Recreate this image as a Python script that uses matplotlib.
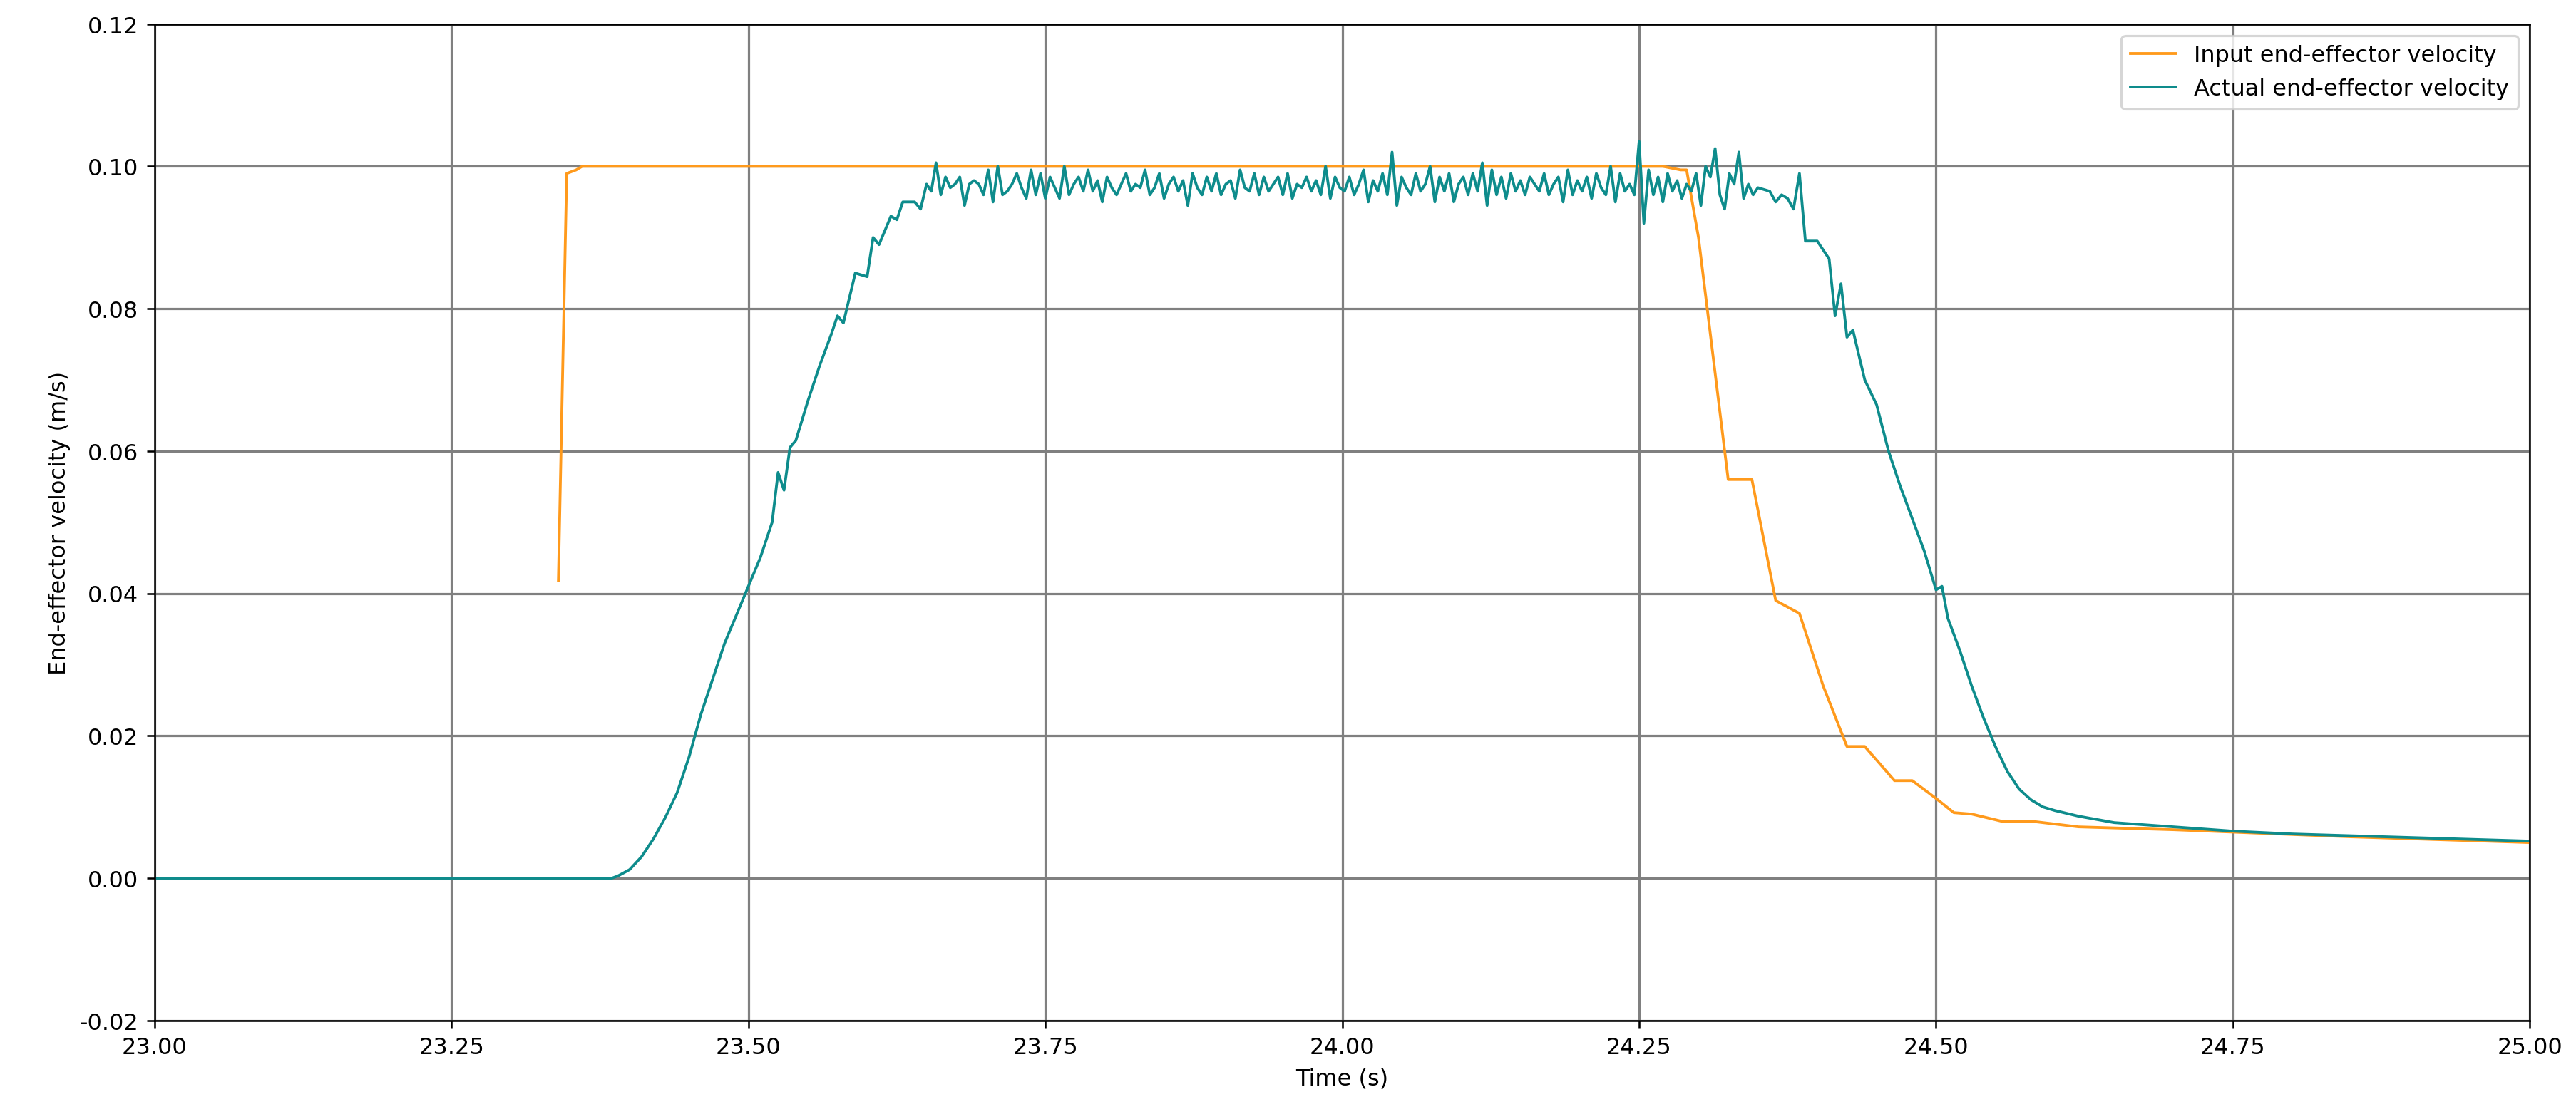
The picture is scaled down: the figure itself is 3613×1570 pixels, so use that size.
import numpy as np
import matplotlib
matplotlib.use('Agg')
import matplotlib.pyplot as plt

# input (commanded) velocity
t_in = [23.34, 23.347, 23.355, 23.36, 24.27, 24.285, 24.29, 24.30, 24.325, 24.345,
        24.365, 24.385, 24.405, 24.425, 24.44, 24.465, 24.48, 24.50, 24.515, 24.53,
        24.555, 24.58, 24.62, 24.70, 24.85, 25.00]
v_in = [0.0418, 0.099, 0.0995, 0.100, 0.100, 0.0995, 0.0995, 0.090, 0.056, 0.056,
        0.039, 0.0372, 0.027, 0.0185, 0.0185, 0.0137, 0.0137, 0.0112, 0.0092, 0.009,
        0.008, 0.008, 0.0072, 0.0068, 0.0058, 0.0050]

# actual velocity: idle + rise
t_rise = [23.00, 23.385, 23.39, 23.40, 23.41, 23.42, 23.43, 23.44, 23.45, 23.46, 23.47,
          23.48, 23.49, 23.50, 23.51, 23.52, 23.525, 23.53, 23.535, 23.54, 23.55,
          23.56, 23.57, 23.575, 23.58, 23.59, 23.60, 23.605, 23.61, 23.62, 23.625,
          23.63, 23.64, 23.645]
v_rise = [0.0, 0.0, 0.0003, 0.0012, 0.003, 0.0055, 0.0085, 0.012, 0.017, 0.023, 0.028,
          0.033, 0.037, 0.041, 0.045, 0.050, 0.057, 0.0545, 0.0605, 0.0615, 0.067,
          0.072, 0.0765, 0.079, 0.078, 0.085, 0.0845, 0.090, 0.089, 0.093, 0.0925,
          0.095, 0.095, 0.094]
# plateau, one value every 4 ms from 23.65
v_plat = [0.0975, 0.0965, 0.1005, 0.0960, 0.0985, 0.0970, 0.0975, 0.0985, 0.0945, 0.0975,
          0.0980, 0.0975, 0.0960, 0.0995, 0.0950, 0.1000, 0.0960, 0.0965, 0.0975, 0.0990,
          0.0970, 0.0955, 0.0995, 0.0960, 0.0990, 0.0955, 0.0985, 0.0970, 0.0955, 0.1000,
          0.0960, 0.0975, 0.0985, 0.0965, 0.0995, 0.0965, 0.0980, 0.0950, 0.0985, 0.0970,
          0.0960, 0.0975, 0.0990, 0.0965, 0.0975, 0.0970, 0.0995, 0.0960, 0.0970, 0.0990,
          0.0955, 0.0975, 0.0985, 0.0965, 0.0980, 0.0945, 0.0990, 0.0970, 0.0960, 0.0985,
          0.0965, 0.0990, 0.0960, 0.0975, 0.0980, 0.0955, 0.0995, 0.0970, 0.0965, 0.0990,
          0.0960, 0.0985, 0.0965, 0.0975, 0.0985, 0.0960, 0.0990, 0.0955, 0.0975, 0.0970,
          0.0985, 0.0965, 0.0980, 0.0960, 0.1000, 0.0955, 0.0985, 0.0970, 0.0965, 0.0985,
          0.0960, 0.0975, 0.0995, 0.0950, 0.0980, 0.0965, 0.0990, 0.0960, 0.1020, 0.0945,
          0.0985, 0.0970, 0.0960, 0.0990, 0.0965, 0.0975, 0.1000, 0.0950, 0.0985, 0.0965,
          0.0990, 0.0950, 0.0975, 0.0985, 0.0960, 0.0990, 0.0965, 0.1005, 0.0945, 0.0995,
          0.0960, 0.0985, 0.0955, 0.0990, 0.0965, 0.0980, 0.0960, 0.0985, 0.0975, 0.0965,
          0.0990, 0.0960, 0.0975, 0.0985, 0.0950, 0.0995, 0.0960, 0.0980, 0.0965, 0.0985,
          0.0955, 0.0990, 0.0970, 0.0960, 0.1000, 0.0950, 0.0990, 0.0965, 0.0975, 0.0960,
          0.1035, 0.0920, 0.0995, 0.0960, 0.0985, 0.0950, 0.0990, 0.0965, 0.0980, 0.0955,
          0.0975, 0.0965, 0.0990, 0.0945, 0.1000, 0.0985, 0.1025, 0.0960, 0.0940, 0.0990,
          0.0975, 0.1020, 0.0955, 0.0975, 0.0960, 0.0970]
t_plat = list(np.round(23.65 + 0.004 * np.arange(len(v_plat)), 4))
# deceleration + tail
t_fall = [24.36, 24.365, 24.37, 24.375, 24.38, 24.385, 24.39, 24.40, 24.41, 24.415,
          24.42, 24.425, 24.43, 24.44, 24.45, 24.46, 24.47, 24.48, 24.49, 24.50,
          24.505, 24.51, 24.52, 24.53, 24.54, 24.55, 24.56, 24.57, 24.58, 24.59,
          24.60, 24.62, 24.65, 24.70, 24.75, 24.80, 24.90, 25.00]
v_fall = [0.0965, 0.0950, 0.0960, 0.0955, 0.0940, 0.0990, 0.0895, 0.0895, 0.0870, 0.0790,
          0.0835, 0.0760, 0.0770, 0.0700, 0.0665, 0.0600, 0.0550, 0.0505, 0.0460, 0.0405,
          0.0410, 0.0365, 0.0320, 0.0270, 0.0225, 0.0185, 0.0150, 0.0125, 0.0110, 0.0100,
          0.0095, 0.0087, 0.0078, 0.0072, 0.0066, 0.0062, 0.0057, 0.0052]
t_act = t_rise + t_plat + t_fall
v_act = v_rise + v_plat + v_fall

fig, ax = plt.subplots(figsize=(15.71, 6.83), dpi=230)
ax.plot(t_in, v_in, color='#ff9a1c', lw=1.2, label='Input end-effector velocity')
ax.plot(t_act, v_act, color='#0e8c8c', lw=1.2, label='Actual end-effector velocity')
ax.set_xlim(23.0, 25.0)
ax.set_ylim(-0.02, 0.12)
ax.set_xticks(np.arange(23.0, 25.01, 0.25))
ax.xaxis.set_major_formatter(matplotlib.ticker.FormatStrFormatter('%.2f'))
ax.set_yticks(np.arange(-0.02, 0.121, 0.02))
ax.yaxis.set_major_formatter(matplotlib.ticker.FormatStrFormatter('%.2f'))
ax.grid(True, color='gray', lw=1.0)
ax.set_xlabel('Time (s)')
ax.set_ylabel('End-effector velocity (m/s)')
ax.legend(loc='upper right')
fig.subplots_adjust(left=0.06, right=0.982, top=0.978, bottom=0.088)
fig.savefig('out.png')
